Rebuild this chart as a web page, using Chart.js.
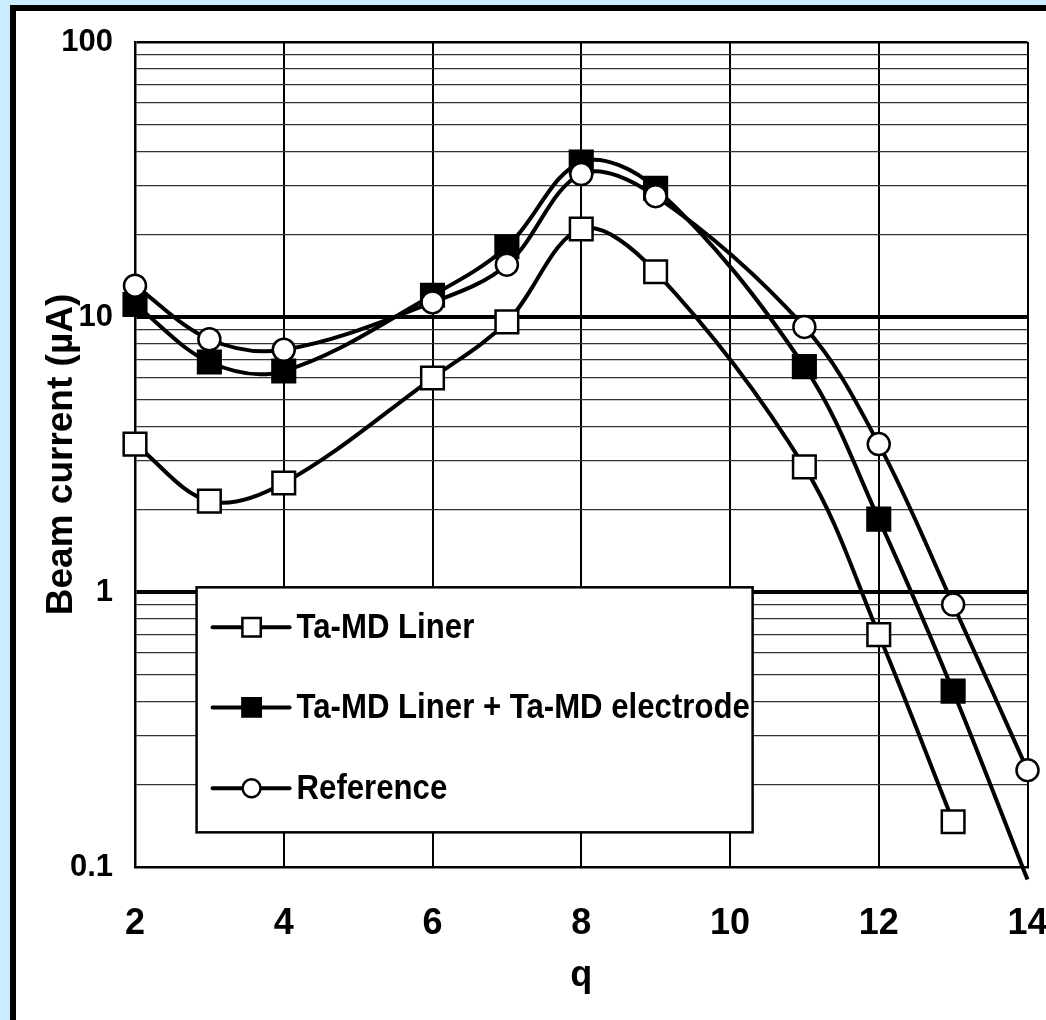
<!DOCTYPE html>
<html>
<head>
<meta charset="utf-8">
<script src="https://cdn.jsdelivr.net/npm/chart.js@4.4.1/dist/chart.umd.min.js"></script>
<style>
  html, body { margin: 0; padding: 0; background: #ccecff; overflow: hidden; }
  #frame { position: absolute; left: 10px; top: 5px; width: 1100px; height: 1100px; background: #fff;
           border-left: 6px solid #000; border-top: 6px solid #000; }
  #wrap { position: absolute; left: 0; top: 0; width: 1046px; height: 1020px; }
</style>
</head>
<body>
<div id="frame"></div>
<div id="wrap"><canvas id="beamChart" width="1046" height="1020"></canvas></div>
<script>
// Beam current vs charge state q (log scale)
const qLiner = [2, 3, 4, 6, 7, 8, 9, 11, 12, 13];
const liner = [3.45, 2.14, 2.49, 6.0, 9.6, 20.9, 14.6, 2.85, 0.70, 0.146];

const qElectrode = [2, 3, 4, 6, 7, 8, 9, 11, 12, 13, 14];
const electrode = [11.1, 6.86, 6.36, 12.0, 18.0, 36.6, 29.4, 6.6, 1.84, 0.436, 0.09];

const qReference = [2, 3, 4, 6, 7, 8, 9, 11, 12, 13, 14];
const reference = [13.0, 8.3, 7.6, 11.3, 15.5, 33.1, 27.5, 9.2, 3.45, 0.90, 0.225];

const seriesNames = ['Ta-MD Liner', 'Ta-MD Liner + Ta-MD electrode', 'Reference'];

const xTicks = [2, 4, 6, 8, 10, 12, 14];
const yDecades = [0.1, 1, 10];
const yTickLabels = ['0.1', '1', '10', '100'];
const yMin = 0.1, yMax = 100;

// grid lines at every 1..9 multiple of each decade
const yGrid = yDecades.flatMap(d => [1,2,3,4,5,6,7,8,9].map(m => +(d * m).toPrecision(2))).concat([yMax]);

const FONT = '"Liberation Sans", Arial, sans-serif';
const toPoints = (xs, ys) => xs.map((x, i) => ({ x: x, y: ys[i] }));

const baseSet = (label, xs, ys, style, fill, radius, order) => ({
  label: label,
  data: toPoints(xs, ys),
  borderColor: '#000',
  borderWidth: 4,
  backgroundColor: fill,
  pointStyle: style,
  pointBackgroundColor: fill,
  pointBorderColor: '#000',
  pointBorderWidth: 2.5,
  pointRadius: c => (c.raw && c.raw.y < yMin) ? 0 : radius,
  pointHoverRadius: radius,
  tension: 0.35,
  capBezierPoints: false,
  clip: false,
  order: order
});

// legend drawn inside the plot, as in the original figure
const legendBox = {
  id: 'legendBox',
  beforeDatasetsDraw(chart){
    const { ctx, chartArea: a } = chart;
    const w = a.right - a.left, h = a.bottom - a.top;
    const x0 = a.left + w * 0.069, x1 = a.left + w * 0.692;
    const y0 = a.top + h * 0.661, y1 = a.top + h * 0.958;
    const bh = y1 - y0;
    const rows = [0.163, 0.49, 0.82];
    const legendR = [13, 13, 9];
    ctx.save();
    ctx.fillStyle = '#fff';
    ctx.fillRect(x0, y0, x1 - x0, bh);
    ctx.lineWidth = 2.5;
    ctx.strokeStyle = '#000';
    ctx.strokeRect(x0, y0, x1 - x0, bh);
    chart.data.datasets.forEach((ds, i) => {
      const ry = y0 + bh * rows[i];
      ctx.beginPath();
      ctx.lineWidth = 4;
      ctx.lineCap = 'round';
      ctx.moveTo(x0 + 16, ry);
      ctx.lineTo(x0 + 93, ry);
      ctx.stroke();
      ctx.fillStyle = ds.pointBackgroundColor;
      ctx.strokeStyle = '#000';
      ctx.lineWidth = 2.5;
      Chart.helpers.drawPoint(ctx, { pointStyle: ds.pointStyle, radius: legendR[i], rotation: 0, borderWidth: 2.5 }, x0 + 55, ry);
      ctx.save();
      ctx.translate(x0 + 100, ry);
      ctx.scale(0.89, 1);
      ctx.fillStyle = '#000';
      ctx.font = 'bold 35px ' + FONT;
      ctx.textBaseline = 'middle';
      ctx.fillText(ds.label, 0, 1);
      ctx.restore();
    });
    ctx.restore();
  }
};

new Chart(document.getElementById('beamChart'), {
  type: 'line',
  data: {
    datasets: [
      baseSet(seriesNames[0], qLiner, liner, 'rect', '#fff', 16, 2),
      baseSet(seriesNames[1], qElectrode, electrode, 'rect', '#000', 16, 1),
      baseSet(seriesNames[2], qReference, reference, 'circle', '#fff', 11, 0)
    ]
  },
  options: {
    responsive: false,
    animation: false,
    layout: { padding: { left: 0, right: 15, top: 42, bottom: 0 } },
    plugins: { legend: { display: false }, tooltip: { enabled: false } },
    scales: {
      x: {
        type: 'linear', min: 2, max: 14,
        afterBuildTicks: s => { s.ticks = xTicks.map(v => ({ value: v })); },
        afterFit: s => { s.height = 153; s.paddingLeft = 0; s.paddingRight = 0; },
        grid: { color: '#000', lineWidth: 2, drawTicks: false },
        border: { color: '#000', width: 2.5 },
        ticks: { color: '#000', autoSkip: false, maxRotation: 0, padding: 35,
                 font: { family: FONT, size: 36, weight: 'bold' } },
        title: { display: true, text: 'q', color: '#000', padding: { top: 0, bottom: 22 },
                 font: { family: FONT, size: 36, weight: 'bold' } }
      },
      y: {
        type: 'logarithmic', min: yMin, max: yMax,
        afterBuildTicks: s => { s.ticks = yGrid.map(v => ({ value: v })); },
        afterFit: s => { s.width = 135; s.paddingTop = 0; s.paddingBottom = 0; },
        grid: {
          drawTicks: false,
          color: c => yTickLabels.includes(String(c.tick.value)) ? '#000' : '#333',
          lineWidth: c => {
            const v = c.tick.value;
            if (v === 1 || v === 10) return 4;
            if (v === yMax) return 2.5;
            return 1.3;
          }
        },
        border: { color: '#000', width: 2.5 },
        ticks: {
          color: '#000', autoSkip: false, padding: 22,
          font: { family: FONT, size: 31, weight: 'bold' },
          callback: v => yTickLabels.includes(String(v)) ? String(v) : ''
        },
        title: { display: true, text: 'Beam current (µA)', color: '#000', padding: { top: 40, bottom: 0 },
                 font: { family: FONT, size: 37, weight: 'bold' } }
      }
    }
  },
  plugins: [legendBox]
});
</script>
</body>
</html>
